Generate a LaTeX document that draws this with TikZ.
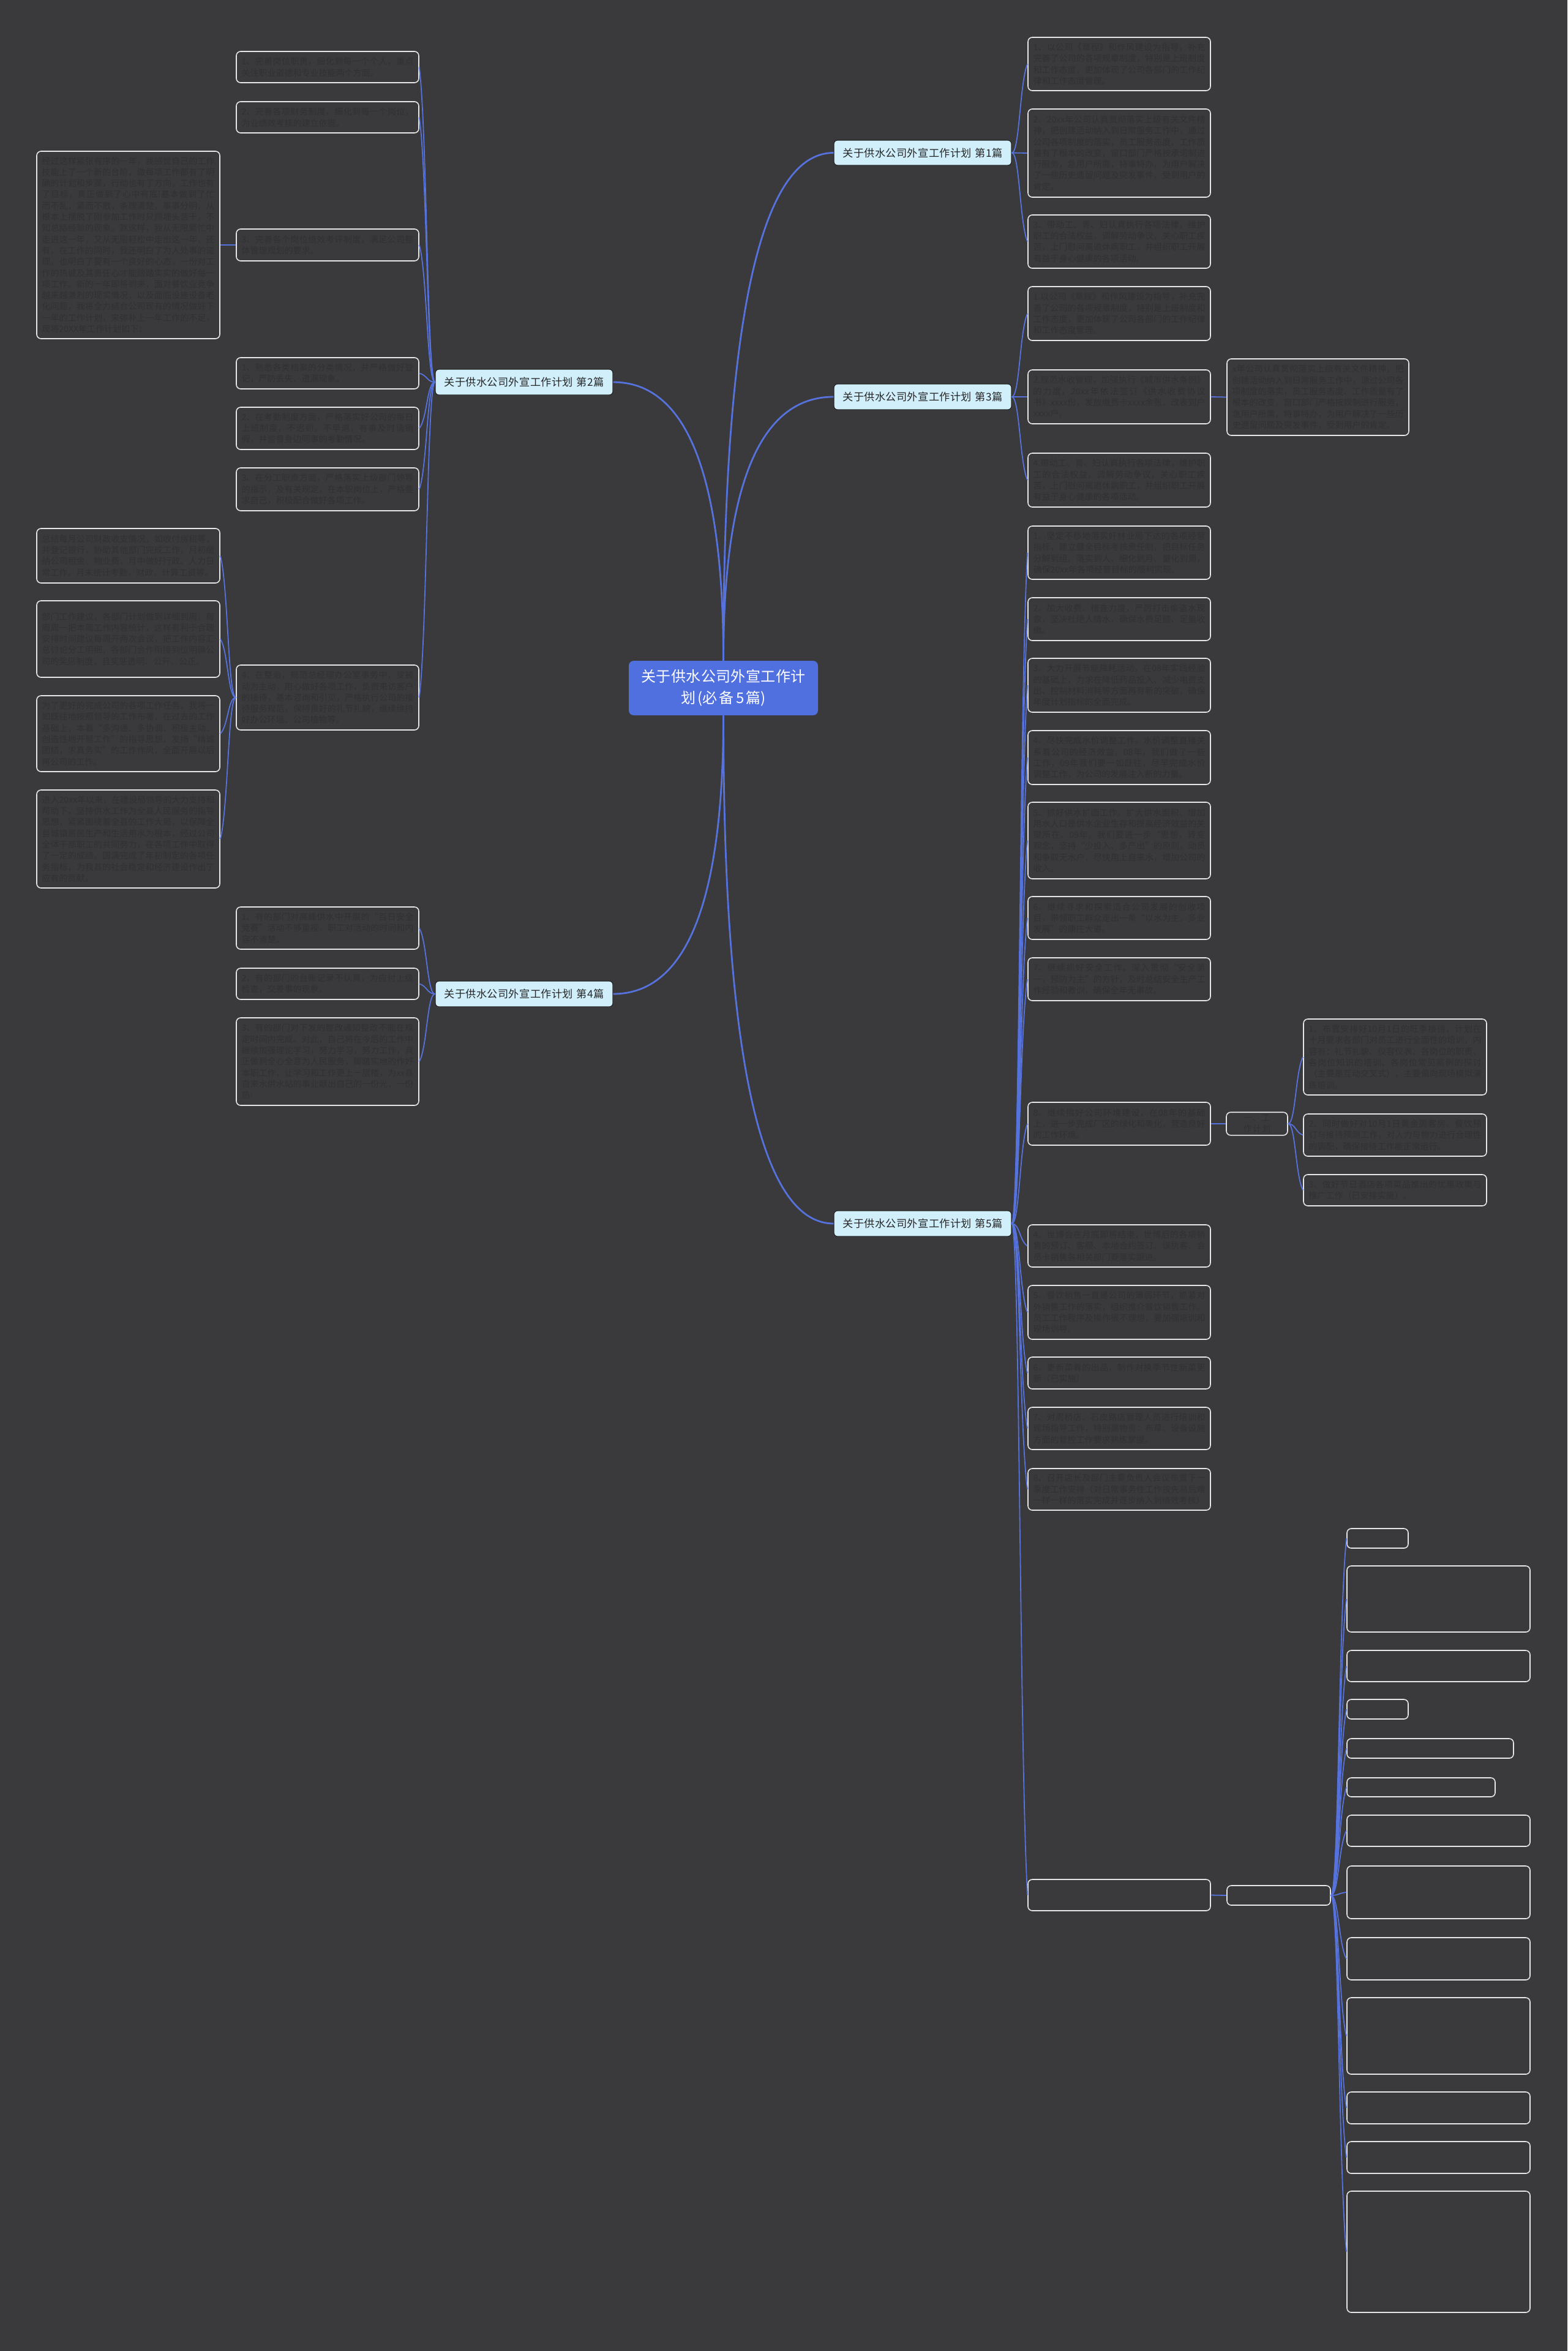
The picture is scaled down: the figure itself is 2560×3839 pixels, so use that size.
\documentclass[tikz,border=0pt]{standalone}
\usepackage{fontspec}
\setmainfont{Noto Sans CJK SC}
\usetikzlibrary{calc}
\XeTeXlinebreaklocale "zh"
\XeTeXlinebreakskip = 0pt plus 1pt
\definecolor{bg}{HTML}{3A393B}
\definecolor{lineblue}{HTML}{5673DD}
\definecolor{rootfill}{HTML}{5070E0}
\definecolor{branchfill}{HTML}{D0EFFB}
\definecolor{leaftext}{HTML}{313133}
\definecolor{leafborder}{HTML}{E6E6E6}
\newcommand{\bx}[7]{%
 \pgfmathsetmacro\bxw{(#4-#2)*0.5}%
 \pgfmathsetmacro\bxh{(#5-#3)*0.5}%
 \pgfmathsetmacro\bxt{(#4-#2)*0.5-8.5}%
 \pgfmathsetmacro\bxx{(#2+#4)/2}%
 \pgfmathsetmacro\bxy{(#3+#5)/2}%
 \node[#6, minimum width=\bxw pt, minimum height=\bxh pt, text width=\bxt pt] (#1) at (\bxx,\bxy) {#7};}
\newcommand{\rconn}[2]{\draw[rootline] let \p1=(#1), \p2=(#2) in (\p1) .. controls (\x1,{\y1/3+2*\y2/3}) and ({2*\x1/3+\x2/3},\y2) .. (\p2);}
\newcommand{\fconn}[2]{\draw[leafline] let \p1=(#1), \p2=(#2) in (\p1) .. controls ({\x1/2+\x2/2},\y1) and ({\x1/2+\x2/2},{0.2*\y1+0.8*\y2}) .. (\p2);}
\begin{document}
\begin{tikzpicture}[x=0.5pt,y=-0.5pt,
 leafbox/.style={draw=leafborder, line width=0.8pt, rounded corners=3.5pt, fill=bg, text=leaftext, font=\fontsize{7}{9.15}\selectfont, align=justify, inner xsep=4.25pt, inner ysep=2pt},
 smallbox/.style={leafbox, align=center},
 branchbox/.style={draw=black!85, line width=0.6pt, rounded corners=3pt, fill=branchfill, text=black!85, font=\fontsize{8.6}{10}\selectfont, align=center, inner xsep=4.25pt, inner ysep=0pt},
 rootbox/.style={fill=rootfill, rounded corners=4pt, text=white, font=\fontsize{12}{17.5}\selectfont, align=center, inner xsep=4.25pt, inner ysep=0pt},
 rootline/.style={draw=lineblue, line width=1.4pt},
 leafline/.style={draw=lineblue, line width=0.9pt}]
\useasboundingbox (0,0) rectangle (2560,3839);
\fill[bg] (0,0) rectangle (2560,3839);

% root and branches
\bx{root}{1027}{1079}{1336}{1168}{rootbox}{关于供水公司外宣工作计\\划(必备5篇)}
\bx{B1}{1362}{229}{1652}{270}{branchbox}{关于供水公司外宣工作计划 第1篇}
\bx{B2}{711}{603}{1001}{645}{branchbox}{关于供水公司外宣工作计划 第2篇}
\bx{B3}{1362}{627}{1652}{669}{branchbox}{关于供水公司外宣工作计划 第3篇}
\bx{B4}{711}{1602}{1001}{1644}{branchbox}{关于供水公司外宣工作计划 第4篇}
\bx{B5}{1362}{1977}{1652}{2019}{branchbox}{关于供水公司外宣工作计划 第5篇}

% branch 1
\bx{L1a}{1679}{61}{1977}{148}{leafbox}{1、以公司《章程》和作风建设为指导，补充完善了公司的各项规章制度，特别是上班制度和工作态度，更加体现了公司各部门的工作纪律和工作态度管理。}
\bx{L1b}{1679}{178}{1977}{322}{leafbox}{2、20xx年公司认真贯彻落实上级有关文件精神，把创建活动纳入到日常服务工作中，通过公司各项制度的落实，员工服务态度、工作质量有了根本的改变，窗口部门严格按承诺制进行服务，急用户所需，特事特办，为用户解决了一些历史遗留问题及突发事件，受到用户的肯定。}
\bx{L1c}{1679}{351}{1977}{438}{leafbox}{3、带动工、青、妇认真执行各项法律，维护职工的合法权益，调解劳动争议，关心职工疾苦，上门慰问离退休病职工，并组织职工开展有益于身心健康的各项活动。}

% branch 3
\bx{L3a}{1679}{468}{1977}{556}{leafbox}{1.以公司《章程》和作风建设为指导，补充完善了公司的各项规章制度，特别是上班制度和工作态度，更加体现了公司各部门的工作纪律和工作态度管理。}
\bx{L3b}{1679}{604}{1977}{692}{leafbox}{2.规范水收管理，加强执行《城市供水条例》的力度，20xx年依法签订《供水收费协议书》xxxx份，发放缴费卡xxxx余张，改表到户xxxx户。}
\bx{L3c}{1679}{740}{1977}{828}{leafbox}{4.带动工、青、妇认真执行各项法律，维护职工的合法权益，调解劳动争议，关心职工疾苦，上门慰问离退休病职工，并组织职工开展有益于身心健康的各项活动。}
\bx{L3d}{2004}{586}{2301}{711}{leafbox}{x年公司认真贯彻落实上级有关文件精神，把创建活动纳入到日常服务工作中，通过公司各项制度的落实，员工服务态度、工作质量有了根本的改变，窗口部门严格按规制进行服务，急用户所需，特事特办，为用户解决了一些历史遗留问题及突发事件，受到用户的肯定。}

% branch 2
\bx{L2a}{386}{84}{684}{135}{leafbox}{1、完善岗位职责，细化到每一个个人，重点关注职业道德和专业技能两个方面。}
\bx{L2b}{386}{166}{684}{217}{leafbox}{2、完善各项财务制度，细化到每一个岗位，为业绩效考核的建立依据。}
\bx{L2c}{386}{374}{684}{426}{leafbox}{3、完善各个岗位绩效考评制度，满足公司整体管理规划的要求。}
\bx{L2c1}{60}{247}{359}{553}{leafbox}{经过这样紧张有序的一年，我感觉自己的工作技能上了一个新的台阶，做每项工作都有了明确的计划和步骤，行动也有了方向，工作也有了目标，真正做到了心中有底!基本做到了忙而不乱，紧而不散，条理清楚，事事分明，从根本上摆脱了刚参加工作时只顾埋头苦干，不知总结经验的现象。就这样，我从无限繁忙中走进这一年，又从无限轻松中走出这一年，还有，在工作的同时，我还明白了为人处事的道理，也明白了要有一个良好的心态，一份对工作的热诚及其责任心才能踏踏实实的做好每一项工作。新的一年即将到来，面对餐饮业竞争越来越激烈的现实情况，以及面临设施设备老化问题，我将全力结合公司现有的情况做好下一年的工作计划，来弥补上一年工作的不足，现将20XX年工作计划如下：}
\bx{L2d}{386}{584}{684}{635}{leafbox}{1、熟悉各类档案的分类情况，并严格做好登记，严防丢失、遗漏现象。}
\bx{L2e}{386}{665}{684}{734}{leafbox}{2、在考勤制度方面，严格落实好公司的每日上班制度，不迟到，不早退，有事及时请销假，并监督身边同事的考勤情况。}
\bx{L2f}{386}{764}{684}{834}{leafbox}{3、在分工职责方面，严格落实上级部门领导的指示，及有关规定，在本职岗位上，严格要求自己，积极配合做好各项工作。}
\bx{L2g}{386}{1086}{684}{1192}{leafbox}{4、在整治，规范总经理办公室事务中，变被动为主动，用心做好各项工作，负责来访客户的接待，基本咨询和引见，严格执行公司的接待服务规范，保持良好的礼节礼貌，继续维持好办公环境、公司植物等。}
\bx{L2g1}{60}{863}{359}{952}{leafbox}{总结每月公司财政收支情况，如收付房租等，并登记银行，协助其他部门完成工作，月初缴纳公司租金、物业费，月中做好行政、人力日常工作，月末统计考勤，财政，计算工资等。}
\bx{L2g2}{60}{981}{359}{1106}{leafbox}{部门工作建议，各部门计划做到详细到周，每周周一把本周工作内容统计，这样有利于合理安排时间建议每周开两次会议，把工作内容汇总讨论分工明细，各部门合作衔接到位明确公司的奖惩制度，且奖惩透明、公开、公正。}
\bx{L2g3}{60}{1136}{359}{1260}{leafbox}{为了更好的完成公司的各项工作任务，我将一如既往地按照领导的工作布署，在过去的工作基础上，本着“多沟通、多协调、积极主动、创造性地开展工作”的指导思想，发扬“精诚团结，求真务实”的工作作风，全面开展以后再公司的工作。}
\bx{L2g4}{60}{1290}{359}{1450}{leafbox}{进入20xx年以来，在建设局领导的大力支持和帮助下，坚持供水工作为全县人民服务的指导思想，紧紧围绕着全县的工作大局，以保障全县城镇居民生产和生活用水为根本，经过公司全体干部职工的共同努力，在各项工作中取得了一定的成绩，圆满完成了年初制定的各项任务指标，为我县的社会稳定和经济建设作出了应有的贡献。}

% branch 4
\bx{L4a}{386}{1481}{684}{1550}{leafbox}{1、有的部门对高峰供水中开展的“百日安全竞赛”活动不够重视，职工对活动的时间和内容不清楚。}
\bx{L4b}{386}{1581}{684}{1632}{leafbox}{2、有的部门的台账记录不认真，为应付上级检查，交差事的现象。}
\bx{L4c}{386}{1662}{684}{1805}{leafbox}{3、有的部门对下发的整改通知整改不能在规定时间内完成。对此，自己将在今后的工作中继续加强理论学习，努力学习，努力工作，真正做到全心全意为人民服务，脚踏实地的作好本职工作，让学习和工作更上一层楼，为xx县自来水供水站的事业献出自己的一份光，一份热!}

% branch 5
\bx{L5a}{1679}{859}{1977}{946}{leafbox}{1、坚定不移地落实好林业局下达的各项经营指标，建立健全目标考核责任制，把目标任务分解到组、落实到人、细化到月、量化到周，确保20xx年各项经营目标的顺利实现。}
\bx{L5b}{1679}{976}{1977}{1046}{leafbox}{2、加大收费、稽查力度，严厉打击偷盗水现象，坚决杜绝人情水，确保水费足额、足量收缴。}
\bx{L5c}{1679}{1075}{1977}{1163}{leafbox}{3、大力开展节能降耗活动，在08年实践经验的基础上，力求在降低药品投入、减少电费支出、控制材料消耗等方面再有新的突破，确保年度计划指标的全面完成。}
\bx{L5d}{1679}{1193}{1977}{1281}{leafbox}{4、尽快完成水价调整工作。水价调整直接关系着公司的经济效益，08年，我们做了一些工作，09年我们要一如既往，尽早完成水价调整工作，为公司的发展注入新的力量。}
\bx{L5e}{1679}{1310}{1977}{1435}{leafbox}{5、抓好供水扩面工作。扩大供水面积、增加用水人口是供水企业生存和提高经济效益的关键所在。09年，我们要进一步“思想，转变观念，坚持“少投入、多产出”的原则，动员和争取无水户，尽快用上自来水，增加公司的收入。}
\bx{L5f}{1679}{1464}{1977}{1534}{leafbox}{6、继续寻求和探索适合公司发展的创收项目，带领职工群众走出一条“以水为主，多业发展”的康庄大道。}
\bx{L5g}{1679}{1564}{1977}{1634}{leafbox}{7、继续抓好安全工作。深入贯彻“安全第一，预防为主”的方针，及时总结安全生产工作经验和教训，确保全年无事故。}
\bx{L5h}{1679}{1800}{1977}{1870}{leafbox}{8、继续搞好公司环境建设，在08年的基础上，进一步完成厂区的绿化和美化，营造良好的工作环境。}
\bx{S1}{2003}{1819}{2103}{1851}{smallbox}{一、工作计划}
\bx{S1a}{2129}{1664}{2428}{1788}{leafbox}{1、布置安排好10月1日的旺季接待，计划在十月要求各部门对员工进行全面性的培训，内容有：礼节礼貌、仪容仪表、各岗位的职责、各岗位知识的培训、各岗位常见案例的探讨（主要是互动交叉式），主要偏向现场模拟演练培训。}
\bx{S1b}{2129}{1819}{2428}{1888}{leafbox}{2、同时做好对10月1日黄金周客房、餐饮预订与接待预测工作，对人力与物力进行合理性的调配，确保接待工作能正常运行。}
\bx{S1c}{2129}{1918}{2428}{1969}{leafbox}{3、做好节日酒店各项菜品推出的优惠政策与推广工作（已安排实施）。}
\bx{L5i}{1679}{2000}{1977}{2069}{leafbox}{4、世博会在月底即将结束，世博后的各项销售的预订、客服、本地合约签订、误执客、会员卡销售各相关部门要落实跟进。}
\bx{L5j}{1679}{2099}{1977}{2187}{leafbox}{5、餐饮销售一直是公司的薄弱环节，抓紧对外销售工作的落实，组织推介餐饮销售工作。员工工作程序及操作很不理想，要加强培训和现场训导。}
\bx{L5k}{1679}{2216}{1977}{2268}{leafbox}{6、更新菜肴的出品，制作对换季节性新菜更新（已实施）}
\bx{L5l}{1679}{2298}{1977}{2367}{leafbox}{7、对周桥店、石皮路店管理人员进行培训和现场指导工作，特别是物资：布草、设备设施方面的管控工作要求熟练掌握。}
\bx{L5m}{1679}{2398}{1977}{2466}{leafbox}{8、召开店长及部门主要负责人会议布置下一季度工作安排（对日常事务性工作按先易后难一样一样的落实完成并逐步纳入到绩效考核）}
\bx{L5n}{1679}{3069}{1977}{3120}{leafbox}{}
\bx{S2}{2004}{3079}{2173}{3111}{smallbox}{}
\bx{T1}{2200}{2496}{2300}{2528}{smallbox}{}
\bx{T2}{2200}{2557}{2499}{2665}{leafbox}{}
\bx{T3}{2200}{2695}{2499}{2746}{leafbox}{}
\bx{T4}{2200}{2775}{2300}{2807}{smallbox}{}
\bx{T5}{2200}{2839}{2472}{2871}{leafbox}{}
\bx{T6}{2200}{2903}{2442}{2934}{leafbox}{}
\bx{T7}{2200}{2964}{2499}{3015}{leafbox}{}
\bx{T8}{2200}{3047}{2499}{3133}{leafbox}{}
\bx{T9}{2200}{3164}{2499}{3233}{leafbox}{}
\bx{T10}{2200}{3262}{2499}{3387}{leafbox}{}
\bx{T11}{2200}{3416}{2499}{3468}{leafbox}{}
\bx{T12}{2200}{3497}{2499}{3549}{leafbox}{}
\bx{T13}{2200}{3578}{2499}{3776}{leafbox}{}

% connectors
\rconn{root.north}{B1.west}
\rconn{root.north}{B2.east}
\rconn{root.north}{B3.west}
\rconn{root.south}{B4.east}
\rconn{root.south}{B5.west}
\foreach \t in {L1a,L1b,L1c} {\fconn{B1.east}{\t.west}}
\foreach \t in {L3a,L3b,L3c} {\fconn{B3.east}{\t.west}}
\fconn{L3b.east}{L3d.west}
\foreach \t in {L2a,L2b,L2c,L2d,L2e,L2f,L2g} {\fconn{B2.west}{\t.east}}
\fconn{L2c.west}{L2c1.east}
\foreach \t in {L2g1,L2g2,L2g3,L2g4} {\fconn{L2g.west}{\t.east}}
\foreach \t in {L4a,L4b,L4c} {\fconn{B4.west}{\t.east}}
\foreach \t in {L5a,L5b,L5c,L5d,L5e,L5f,L5g,L5h,L5i,L5j,L5k,L5l,L5m,L5n} {\fconn{B5.east}{\t.west}}
\fconn{L5h.east}{S1.west}
\foreach \t in {S1a,S1b,S1c} {\fconn{S1.east}{\t.west}}
\fconn{L5n.east}{S2.west}
\foreach \t in {T1,T2,T3,T4,T5,T6,T7,T8,T9,T10,T11,T12,T13} {\fconn{S2.east}{\t.west}}
\end{tikzpicture}
\end{document}
